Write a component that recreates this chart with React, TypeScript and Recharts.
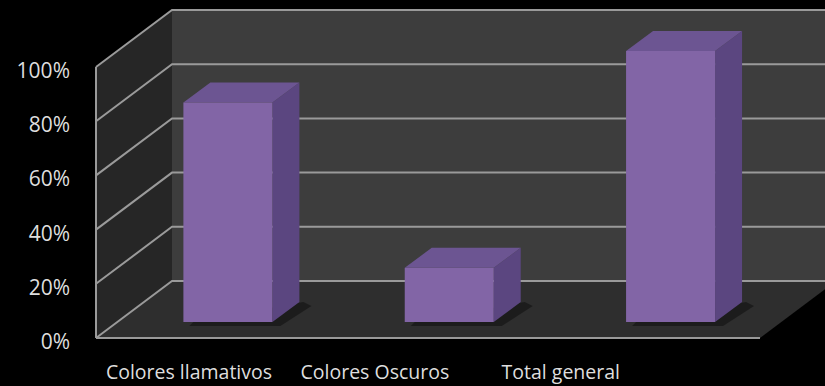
import { Bar, BarChart, CartesianGrid, ReferenceArea, XAxis, YAxis } from "recharts";

const categories = ["Colores llamativos", "Colores Oscuros", "Total general"];
const shares = [0.81, 0.2, 1.0];
const yTicks = [0, 0.2, 0.4, 0.6, 0.8, 1];

const data = categories.map((name, i) => ({ name, value: shares[i] }));

// depth offsets from the bar plane (front of floor / back wall)
const FRONT = { dx: -21, dy: 16 };
const BACK = { dx: 55, dy: -41 };
const BOX = { dx: 27, dy: -20 };
const PLOT_LEFT = 117;
const FONT = "'Open Sans', 'Liberation Sans', sans-serif";
const GRID = "#9a9a9a";

function Walls(props: any) {
  const { x, y, width, height } = props;
  const L = x, T = y, R = x + width, B = y + height;
  const pts = (a: number[][]) => a.map((p) => p.join(",")).join(" ");
  return (
    <g>
      <rect x={L + BACK.dx} y={T + BACK.dy} width={width} height={height} fill="#3d3d3d" />
      <polygon
        points={pts([[L + FRONT.dx, T + FRONT.dy], [L + BACK.dx, T + BACK.dy], [L + BACK.dx, B + BACK.dy], [L + FRONT.dx, B + FRONT.dy]])}
        fill="#262626"
      />
      <polygon
        points={pts([[L + FRONT.dx, B + FRONT.dy], [L + BACK.dx, B + BACK.dy], [R + BACK.dx, B + BACK.dy], [R + FRONT.dx, B + FRONT.dy]])}
        fill="#2e2e2e"
      />
      <line x1={L + FRONT.dx} y1={T + FRONT.dy} x2={L + FRONT.dx} y2={B + FRONT.dy} stroke={GRID} strokeWidth={2} />
      <line x1={L + FRONT.dx} y1={B + FRONT.dy} x2={R + FRONT.dx} y2={B + FRONT.dy} stroke={GRID} strokeWidth={2} />
    </g>
  );
}

function GridLine(props: any) {
  const { x1, x2, y1 } = props;
  const d = `M${x1 + FRONT.dx},${y1 + FRONT.dy} L${x1 + BACK.dx},${y1 + BACK.dy} L${x2 + BACK.dx + 60},${y1 + BACK.dy}`;
  return <path key={props.key ?? y1} d={d} stroke={GRID} strokeWidth={2} fill="none" />;
}

function Box3D(props: any) {
  const { x, y, width, height } = props;
  const r = x + width, b = y + height;
  const pts = (a: number[][]) => a.map((p) => p.join(",")).join(" ");
  return (
    <g>
      <polygon
        points={pts([[x + 10, b], [r + BOX.dx + 4, b + BOX.dy], [r + BOX.dx + 12, b + BOX.dy + 4], [r + 8, b + 4], [x + 6, b + 4]])}
        fill="#161616"
        opacity={0.7}
      />
      <polygon points={pts([[r, y], [r + BOX.dx, y + BOX.dy], [r + BOX.dx, b + BOX.dy], [r, b]])} fill="#5b4680" />
      <polygon points={pts([[x, y], [x + BOX.dx, y + BOX.dy], [r + BOX.dx, y + BOX.dy], [r, y]])} fill="#6c5592" />
      <rect x={x} y={y} width={width} height={height} fill="#8265a6" />
    </g>
  );
}

function YTick(props: any) {
  const { y, payload } = props;
  return (
    <text x={70} y={y + FRONT.dy + 3} textAnchor="end" dominantBaseline="central" fill="#dedede" fontSize={21} fontFamily={FONT}>
      {`${Math.round(payload.value * 100)}%`}
    </text>
  );
}

function XTick(props: any) {
  const { x, payload } = props;
  const lx = PLOT_LEFT + FRONT.dx + (x - PLOT_LEFT) * 0.84;
  return (
    <text x={lx} y={371} textAnchor="middle" dominantBaseline="central" fill="#dedede" fontSize={19.5} fontFamily={FONT}>
      {payload.value}
    </text>
  );
}

export default function App() {
  return (
    <div style={{ position: "fixed", left: 0, top: 0, width: 825, height: 386, background: "#000" }}>
      <BarChart width={825} height={386} data={data} margin={{ top: 51, right: 44, left: 0, bottom: 0 }} barCategoryGap="30%">
        <ReferenceArea y1={0} y2={1} shape={<Walls />} zIndex={-200} ifOverflow="visible" />
        <CartesianGrid vertical={false} horizontal={(p: any) => <GridLine {...p} />} />
        <XAxis dataKey="name" axisLine={false} tickLine={false} height={64} tick={<XTick />} interval={0} />
        <YAxis
          domain={[0, 1]}
          ticks={yTicks}
          width={PLOT_LEFT}
          axisLine={false}
          tickLine={false}
          tick={<YTick />}
        />
        <Bar dataKey="value" shape={<Box3D />} isAnimationActive={false} />
      </BarChart>
    </div>
  );
}
